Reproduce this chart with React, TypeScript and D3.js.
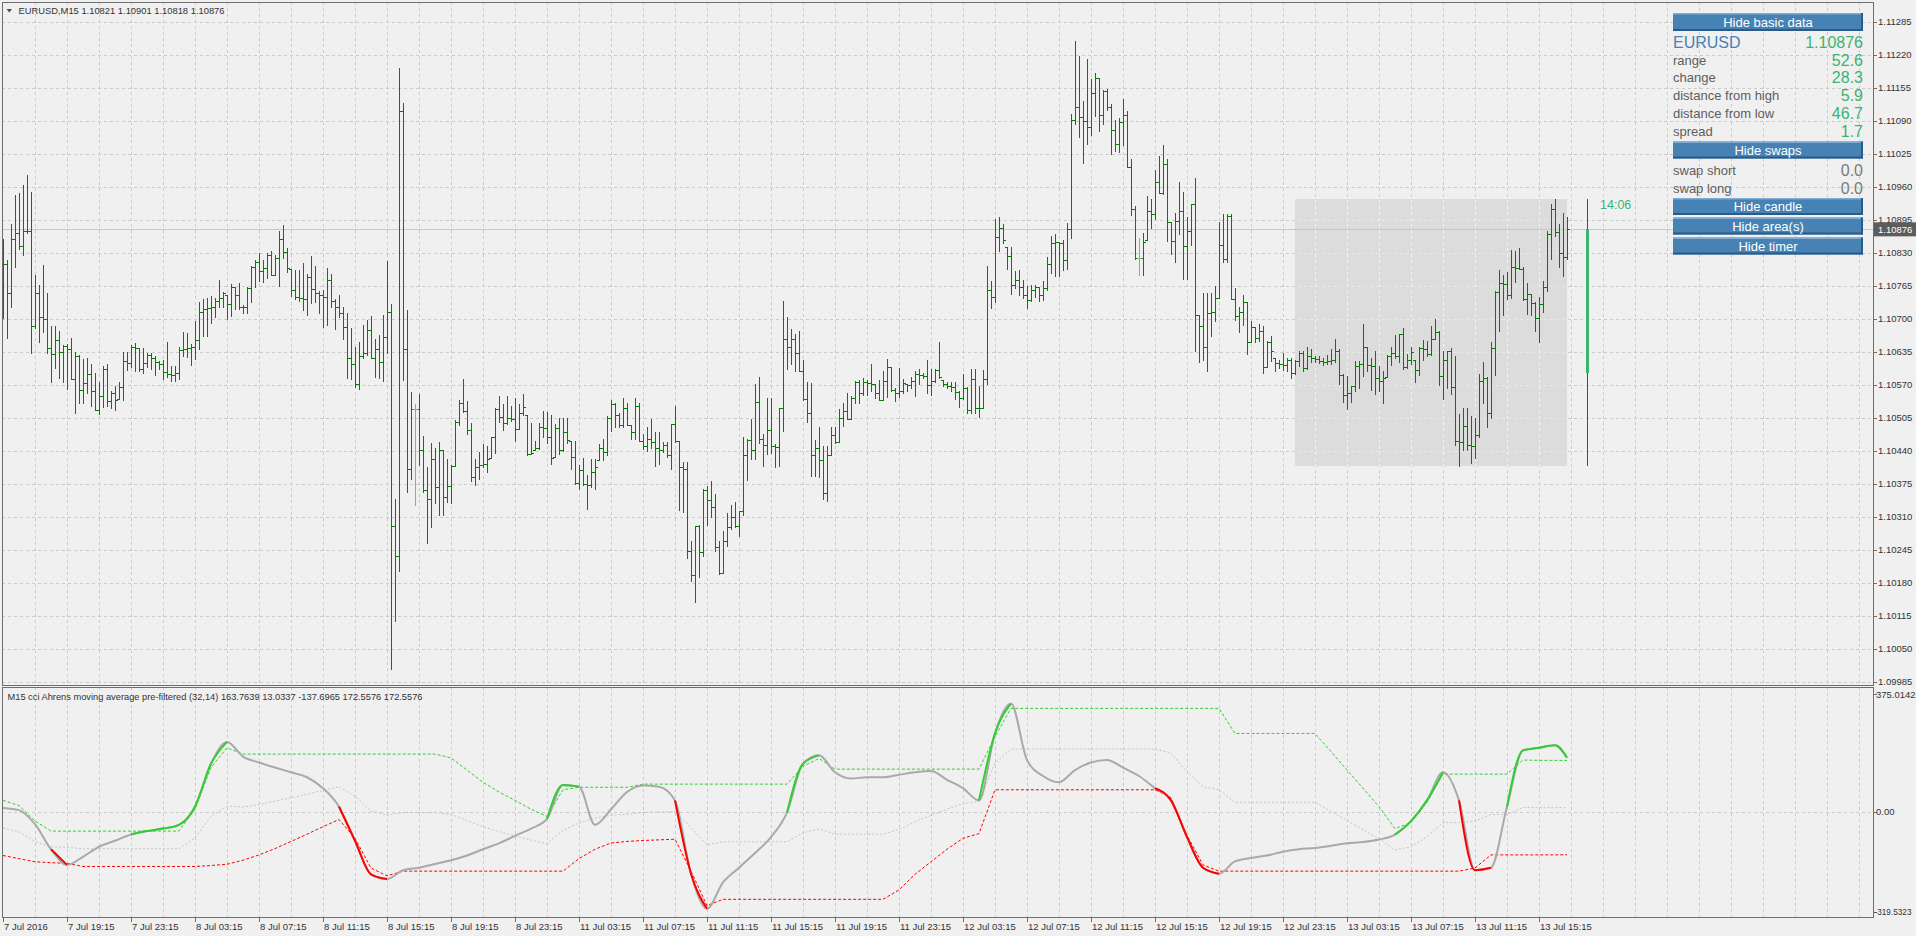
import React from "react";
import * as d3 from "d3";

// ---------- DATA (prices in points of 0.00001 above 1.10000) ----------
const PRICE_BASE = 1.1;
const POINT = 0.00001;

const barOpen: number[] = [
  830, 807, 750, 856, 868, 844, 872, 873, 686, 750, 704, 699, 643, 631, 659, 634, 647, 640, 582, 627,
  560, 573, 591, 558, 521, 548, 600, 538, 553, 540, 565, 616, 613, 644, 642, 600, 612, 628, 622, 615,
  610, 595, 592, 589, 594, 638, 640, 642, 645, 658, 714, 720, 721, 723, 735, 741, 751, 728, 762, 747,
  724, 723, 760, 801, 811, 793, 799, 825, 787, 820, 857, 832, 799, 756, 743, 741, 739, 783, 758, 751,
  747, 742, 776, 735, 724, 712, 684, 623, 611, 571, 627, 633, 678, 623, 641, 615, 663, 714, 291, 233,
  1110, 640, 403, 522, 522, 441, 362, 345, 424, 368, 441, 348, 371, 410, 497, 534, 519, 481, 389, 408,
  412, 414, 424, 466, 522, 507, 495, 505, 503, 482, 514, 527, 434, 436, 446, 486, 484, 466, 426, 484,
  441, 476, 461, 428, 376, 401, 374, 372, 399, 408, 446, 437, 505, 532, 511, 490, 525, 490, 476, 529,
  459, 449, 463, 457, 446, 441, 451, 431, 492, 459, 408, 403, 242, 196, 292, 240, 362, 343, 330, 250,
  199, 262, 289, 310, 291, 322, 432, 461, 442, 536, 463, 451, 480, 449, 447, 524, 660, 644, 660, 633,
  596, 542, 514, 432, 445, 422, 356, 431, 471, 457, 505, 519, 503, 544, 575, 553, 575, 573, 571, 554,
  540, 578, 604, 559, 553, 557, 573, 569, 577, 592, 590, 587, 569, 578, 598, 586, 571, 568, 566, 555,
  544, 563, 521, 582, 525, 524, 582, 757, 742, 861, 878, 855, 824, 767, 776, 762, 746, 736, 756, 762,
  746, 760, 808, 849, 851, 849, 815, 876, 1091, 1116, 1097, 1089, 1077, 1145, 1174, 1102, 1148, 1116, 1071, 1044,
  1087, 1102, 999, 916, 820, 820, 851, 913, 907, 969, 948, 1004, 890, 853, 892, 913, 843, 873, 926, 708,
  685, 644, 712, 714, 741, 845, 817, 903, 739, 706, 714, 733, 655, 684, 662, 675, 605, 654, 636, 612,
  611, 608, 619, 594, 617, 633, 602, 626, 623, 621, 617, 615, 617, 619, 637, 590, 549, 554, 567, 607,
  611, 644, 608, 606, 584, 578, 584, 627, 633, 627, 669, 605, 619, 634, 598, 642, 641, 631, 660, 674,
  588, 619, 636, 565, 459, 457, 489, 451, 449, 470, 578, 583, 514, 642, 752, 770, 768, 747, 801, 800,
  798, 739, 749, 731, 702, 729, 762, 866, 916, 870, 830, 821,
];
const barHigh: number[] = [
  856, 815, 886, 944, 948, 963, 983, 949, 786, 766, 806, 750, 686, 686, 676, 649, 651, 661, 634, 628,
  621, 622, 610, 594, 575, 606, 610, 558, 567, 575, 635, 635, 648, 653, 642, 643, 632, 633, 627, 617,
  619, 654, 607, 607, 645, 674, 672, 650, 696, 733, 738, 741, 745, 741, 776, 753, 747, 768, 762, 770,
  726, 762, 803, 816, 829, 816, 829, 833, 825, 872, 884, 839, 797, 795, 795, 809, 789, 824, 803, 754,
  757, 800, 789, 739, 747, 724, 712, 681, 644, 655, 687, 698, 706, 660, 668, 708, 814, 728, 345, 1193,
  1125, 718, 555, 532, 551, 469, 408, 455, 446, 457, 441, 424, 412, 501, 540, 582, 538, 494, 423, 438,
  453, 449, 467, 524, 547, 532, 547, 529, 543, 531, 551, 511, 494, 459, 494, 519, 517, 511, 492, 505,
  505, 505, 459, 459, 412, 425, 393, 424, 424, 453, 463, 509, 539, 534, 515, 544, 534, 490, 543, 534,
  472, 486, 503, 476, 476, 457, 457, 492, 529, 460, 418, 418, 263, 292, 293, 364, 370, 381, 354, 262,
  281, 318, 333, 339, 322, 466, 463, 503, 571, 586, 472, 544, 544, 453, 525, 734, 703, 680, 670, 676,
  619, 576, 573, 461, 486, 449, 449, 486, 486, 522, 534, 554, 548, 578, 580, 584, 579, 611, 571, 579,
  597, 621, 604, 563, 602, 582, 571, 586, 596, 600, 594, 619, 600, 601, 655, 579, 575, 575, 575, 558,
  592, 565, 601, 601, 567, 598, 803, 774, 897, 900, 886, 841, 841, 793, 795, 776, 764, 766, 766, 762,
  774, 822, 862, 866, 851, 855, 888, 1104, 1247, 1217, 1128, 1212, 1172, 1184, 1175, 1151, 1152, 1122, 1091, 1096,
  1132, 1110, 1014, 922, 859, 869, 941, 936, 992, 1021, 1043, 1014, 890, 909, 970, 950, 901, 926, 977, 708,
  750, 750, 750, 764, 890, 906, 906, 907, 760, 724, 747, 733, 695, 684, 689, 685, 656, 665, 623, 619,
  633, 623, 623, 619, 636, 636, 644, 640, 626, 627, 623, 629, 641, 660, 640, 592, 587, 567, 617, 617,
  689, 644, 623, 636, 607, 596, 629, 644, 667, 670, 681, 631, 644, 619, 644, 659, 656, 685, 699, 675,
  636, 637, 642, 627, 513, 524, 525, 509, 505, 592, 615, 585, 654, 754, 796, 786, 791, 836, 834, 840,
  801, 770, 749, 733, 742, 774, 872, 926, 936, 886, 909, 901,
];
const barLow: number[] = [
  702, 661, 724, 802, 837, 826, 868, 632, 682, 655, 674, 632, 575, 602, 584, 575, 561, 582, 515, 533,
  533, 554, 529, 520, 513, 527, 528, 525, 520, 541, 540, 599, 605, 596, 596, 594, 604, 600, 590, 600,
  582, 586, 578, 578, 582, 627, 624, 609, 621, 640, 665, 666, 691, 703, 723, 724, 699, 706, 720, 720,
  712, 712, 733, 763, 774, 773, 780, 786, 786, 764, 820, 791, 745, 738, 734, 718, 708, 731, 733, 712,
  684, 687, 724, 679, 703, 660, 583, 582, 565, 561, 623, 629, 622, 585, 583, 578, 633, 10, 105, 204,
  580, 358, 384, 333, 412, 358, 258, 289, 337, 314, 314, 338, 337, 410, 490, 517, 473, 380, 373, 384,
  408, 399, 426, 435, 496, 481, 492, 499, 459, 482, 511, 432, 434, 441, 444, 467, 455, 413, 427, 433,
  439, 455, 403, 374, 365, 372, 325, 368, 364, 422, 422, 432, 478, 486, 486, 486, 490, 463, 463, 459,
  444, 439, 445, 410, 413, 438, 427, 403, 457, 323, 319, 229, 184, 141, 192, 233, 293, 310, 242, 198,
  199, 253, 286, 289, 271, 314, 383, 424, 424, 455, 410, 434, 435, 408, 410, 478, 601, 610, 596, 596,
  540, 497, 391, 391, 389, 344, 341, 431, 455, 457, 488, 503, 503, 534, 534, 549, 550, 558, 544, 539,
  540, 546, 558, 538, 546, 554, 557, 563, 548, 571, 583, 554, 550, 576, 583, 568, 563, 558, 542, 526,
  542, 515, 515, 515, 507, 524, 571, 721, 733, 834, 850, 797, 749, 760, 747, 741, 721, 735, 743, 735,
  737, 756, 790, 785, 785, 796, 797, 859, 1083, 1058, 1007, 1044, 1062, 1100, 1070, 1083, 1112, 1025, 1031, 1028,
  1042, 999, 904, 818, 787, 786, 855, 879, 896, 948, 946, 853, 828, 811, 866, 778, 779, 845, 637, 615,
  619, 596, 665, 695, 741, 811, 811, 739, 698, 674, 687, 631, 655, 655, 656, 594, 605, 617, 597, 602,
  598, 596, 584, 592, 607, 596, 600, 615, 615, 612, 608, 611, 610, 615, 572, 536, 523, 536, 557, 563,
  587, 597, 560, 552, 557, 534, 586, 608, 623, 615, 600, 602, 611, 576, 590, 619, 627, 629, 660, 569,
  542, 563, 552, 451, 410, 441, 441, 416, 426, 467, 534, 486, 505, 590, 675, 708, 739, 741, 772, 797,
  737, 710, 708, 675, 655, 713, 754, 818, 863, 801, 785, 818,
];
const barClose: number[] = [
  807, 750, 856, 868, 844, 872, 873, 686, 750, 704, 699, 643, 631, 659, 634, 647, 640, 582, 627, 560,
  573, 591, 558, 521, 548, 600, 538, 553, 540, 565, 616, 613, 644, 642, 600, 612, 628, 622, 615, 610,
  595, 592, 589, 594, 638, 640, 642, 645, 658, 714, 720, 721, 723, 735, 741, 751, 728, 762, 747, 724,
  723, 760, 801, 811, 793, 799, 825, 787, 820, 857, 832, 799, 756, 743, 741, 739, 783, 758, 751, 747,
  742, 776, 735, 724, 712, 684, 623, 611, 571, 627, 633, 678, 623, 641, 615, 663, 714, 291, 233, 1110,
  640, 403, 522, 522, 441, 362, 345, 424, 368, 441, 348, 371, 410, 497, 534, 519, 481, 389, 408, 412,
  414, 424, 466, 522, 507, 495, 505, 503, 482, 514, 527, 434, 436, 446, 486, 484, 466, 426, 484, 441,
  476, 461, 428, 376, 401, 374, 372, 399, 408, 446, 437, 505, 532, 511, 490, 525, 490, 476, 529, 459,
  449, 463, 457, 446, 441, 451, 431, 492, 459, 408, 403, 242, 196, 292, 240, 362, 343, 330, 250, 199,
  262, 289, 310, 291, 322, 432, 461, 442, 536, 463, 451, 480, 449, 447, 524, 660, 644, 660, 633, 596,
  542, 514, 432, 445, 422, 356, 431, 471, 457, 505, 519, 503, 544, 575, 553, 575, 573, 571, 554, 540,
  578, 604, 559, 553, 557, 573, 569, 577, 592, 590, 587, 569, 578, 598, 586, 571, 568, 566, 555, 544,
  563, 521, 582, 525, 524, 582, 757, 742, 861, 878, 855, 824, 767, 776, 762, 746, 736, 756, 762, 746,
  760, 808, 849, 851, 849, 815, 876, 1091, 1116, 1097, 1089, 1077, 1145, 1174, 1102, 1148, 1116, 1071, 1044, 1087,
  1102, 999, 916, 820, 820, 851, 913, 907, 969, 948, 1004, 890, 853, 892, 913, 843, 873, 926, 708, 685,
  644, 712, 714, 741, 845, 817, 903, 739, 706, 714, 733, 655, 684, 662, 675, 605, 654, 636, 612, 611,
  608, 619, 594, 617, 633, 602, 626, 623, 621, 617, 615, 617, 619, 637, 590, 549, 554, 567, 607, 611,
  644, 608, 606, 584, 578, 584, 627, 633, 627, 669, 605, 619, 634, 598, 642, 641, 631, 660, 674, 588,
  619, 636, 565, 459, 457, 489, 451, 449, 470, 578, 583, 514, 642, 752, 770, 768, 747, 801, 800, 798,
  739, 749, 731, 702, 729, 762, 866, 916, 870, 830, 822, 876,
];

const areaStartBar = 323;
const candleOpen = 593;
const candleShiftBars = 5;
const bidPrice = 1.10876;
const bidLabel = "1.10876";
const timerText = "14:06";

const timeLabels = [
  "7 Jul 2016", "7 Jul 19:15", "7 Jul 23:15", "8 Jul 03:15", "8 Jul 07:15", "8 Jul 11:15", "8 Jul 15:15",
  "8 Jul 19:15", "8 Jul 23:15", "11 Jul 03:15", "11 Jul 07:15", "11 Jul 11:15", "11 Jul 15:15",
  "11 Jul 19:15", "11 Jul 23:15", "12 Jul 03:15", "12 Jul 07:15", "12 Jul 11:15", "12 Jul 15:15",
  "12 Jul 19:15", "12 Jul 23:15", "13 Jul 03:15", "13 Jul 07:15", "13 Jul 11:15", "13 Jul 15:15",
];
const priceLabels = [
  "1.11285", "1.11220", "1.11155", "1.11090", "1.11025", "1.10960", "1.10895", "1.10830", "1.10765",
  "1.10700", "1.10635", "1.10570", "1.10505", "1.10440", "1.10375", "1.10310", "1.10245", "1.10180",
  "1.10115", "1.10050", "1.09985",
];
const indicatorLabels = ["375.0142", "0.00", "-319.5323"];
const indicatorMax = 375.0142;
const indicatorMin = -319.5323;

// indicator sampled every 4 bars, last value at the final bar
const cciStep = 4;
const cciLine = [
  12, 5, -40, -120, -170, -144, -112, -93, -73, -62,
  -54, -42, 16, 153, 223, 176, 157, 141, 126, 110,
  75, 16, -93, -200, -215, -187, -179, -167, -155, -140,
  -120, -101, -77, -54, -23, 85, 80, -42, 8, 63,
  84, 80, 36, -198, -310, -226, -179, -132, -81, -3,
  153, 180, 126, 106, 110, 110, 118, 126, 130, 102,
  75, 36, 250, 345, 165, 114, 94, 133, 157, 165,
  141, 114, 75, 36, -81, -179, -198, -159, -148, -140,
  -128, -120, -116, -109, -101, -97, -89, -73, -30, 36,
  126, 36, -187, -179, 16, 196, 204, 212, 172.5576,
];
const cciUpper = [
  36, 20, -30, -62, -62, -62, -62, -62, -62, -62,
  -62, -62, 8, 141, 204, 184, 184, 184, 184, 184,
  184, 184, 184, 184, 184, 184, 184, 184, 172, 133,
  94, 63, 36, 8, -15, 70, 78, 78, 78, 78,
  88, 88, 88, 88, 88, 88, 88, 88, 88, 88,
  145, 170, 136, 136, 136, 136, 136, 136, 136, 136,
  136, 136, 240, 330, 330, 330, 330, 330, 330, 330,
  330, 330, 330, 330, 330, 330, 330, 250, 250, 250,
  250, 250, 250, 192, 133, 75, 16, -54, -35, 30,
  120, 120, 120, 120, 120, 165, 164, 164, 163.7639,
];
const cciLower = [
  -140, -150, -160, -163, -165, -175, -175, -175, -175, -175,
  -175, -175, -175, -172, -168, -155, -138, -118, -95, -72,
  -48, -25, -85, -180, -205, -190, -190, -190, -190, -190,
  -190, -190, -190, -190, -190, -190, -150, -120, -100, -95,
  -92, -90, -88, -190, -300, -280, -280, -280, -280, -280,
  -280, -280, -280, -280, -280, -280, -250, -200, -160, -120,
  -85, -70, 70, 70, 70, 70, 70, 70, 70, 70,
  70, 70, 70, 45, -75, -170, -190, -190, -190, -190,
  -190, -190, -190, -190, -190, -190, -190, -190, -190, -190,
  -190, -190, -180, -138, -138, -138, -138, -138, -137.6965,
];

const chartTitle = "EURUSD,M15  1.10821 1.10901 1.10818 1.10876";
const indicatorTitle =
  "M15 cci Ahrens moving average pre-filtered (32,14) 163.7639 13.0337 -137.6965 172.5576 172.5576";
const symbolName = "EURUSD";
const symbolPrice = "1.10876";
const infoLabels = ["range", "change", "distance from high", "distance from low", "spread"];
const infoValues = ["52.6", "28.3", "5.9", "46.7", "1.7"];
const swapLabels = ["swap short", "swap long"];
const swapValues = ["0.0", "0.0"];
const buttonLabels = ["Hide basic data", "Hide swaps", "Hide candle", "Hide area(s)", "Hide timer"];

// ---------- COMPONENT ----------
const FONT = "'Liberation Sans', Arial, sans-serif";
const BG = "#f0f0f0";
const GRID = "#cbcbcb";
const FRAME = "#6e6e6e";
const BAR_GREEN = "#008000";
const VALUE_GREEN = "#3cb371";

export default function App() {
  const W = 1916;
  const H = 936;
  const n = barClose.length;
  const main = { x0: 2, x1: 1873, y0: 2, y1: 685 };
  const ind = { y0: 687, y1: 917 };

  const x = d3.scaleLinear().domain([0, 1]).range([3, 7]);
  const y = d3.scaleLinear().domain([1.09985, 1.11285]).range([681.7, 21.7]);
  const yi = d3.scaleLinear().domain([indicatorMin, indicatorMax]).range([911.7, 694.3]);
  const price = (v: number) => PRICE_BASE + v * POINT;

  const gridBars = d3.range(8, 468, 8);
  const priceTicks = priceLabels.map(Number);

  // bars
  let greenPath = "";
  let greyPath = "";
  for (let i = 0; i < n; i++) {
    const xi = Math.round(x(i));
    const hi = Math.round(y(price(barHigh[i])));
    const lo = Math.round(y(price(barLow[i])));
    const o = Math.max(barLow[i], Math.min(barHigh[i], barOpen[i]));
    const c = Math.max(barLow[i], Math.min(barHigh[i], barClose[i]));
    const yo = Math.round(y(price(o))) + 0.5;
    const yc = Math.round(y(price(c))) + 0.5;
    const seg = `M${xi + 0.5},${hi}V${lo + 1}M${xi - 2},${yo}H${xi}M${xi + 1},${yc}H${xi + 3}`;
    if (barOpen[i] === barClose[i]) greyPath += seg;
    else greenPath += seg;
  }

  // area of the last session
  const areaHigh = d3.max(barHigh.slice(areaStartBar)) as number;
  const areaLow = d3.min(barLow.slice(areaStartBar)) as number;
  const areaX0 = x(areaStartBar);
  const areaX1 = x(n - 1);
  const areaY0 = y(price(areaHigh));
  const areaY1 = y(price(areaLow));

  // candle
  const cx = Math.round(x(n - 1 + candleShiftBars));
  const cTop = y(price(barClose[n - 1]));
  const cBot = y(price(candleOpen));

  // indicator
  const indBars = cciLine.map((_, j) => (j < cciLine.length - 1 ? j * cciStep : n - 1));
  const cciMid = cciUpper.map((u, j) => (u + cciLower[j]) / 2);
  const state = cciLine.map((v, j) => (v >= cciUpper[j] ? 1 : v <= cciLower[j] ? -1 : 0));
  const lineGen = d3
    .line<number>()
    .x((_, j) => x(indBars[j]))
    .y((d) => yi(d))
    .curve(d3.curveMonotoneX);
  const bandGen = d3
    .line<number>()
    .x((_, j) => x(indBars[j]))
    .y((d) => yi(d));
  const cciPath = lineGen(cciLine) || "";
  const upPath =
    lineGen.defined((_, j) => state[j] === 1 || state[j + 1] === 1)(cciLine) || "";
  const dnPath =
    lineGen.defined((_, j) => state[j] === -1 || state[j + 1] === -1)(cciLine) || "";
  lineGen.defined(() => true);

  const btnX = 1673;
  const btnW = 190;
  const buttons = [
    { y: 13, h: 18 },
    { y: 141.5, h: 17 },
    { y: 198, h: 17 },
    { y: 217.5, h: 17 },
    { y: 237.5, h: 17 },
  ];
  const infoY = [60, 77.7, 95.7, 113.3, 131];
  const swapY = [170, 188.3];

  return (
    <div style={{ position: "absolute", left: 0, top: 0 }}>
      <svg width={W} height={H} style={{ display: "block", background: BG }} fontFamily={FONT}>
        <defs>
          <clipPath id="mainClip">
            <rect x={main.x0} y={main.y0} width={main.x1 - main.x0} height={main.y1 - main.y0} />
          </clipPath>
          <clipPath id="indClip">
            <rect x={main.x0} y={ind.y0} width={main.x1 - main.x0} height={ind.y1 - ind.y0} />
          </clipPath>
          <clipPath id="areaClip">
            <rect x={areaX0} y={areaY0} width={areaX1 - areaX0} height={areaY1 - areaY0} />
          </clipPath>
        </defs>
        <rect x={0} y={0} width={W} height={H} fill={BG} />

        {/* main pane grid */}
        <g clipPath="url(#mainClip)" shapeRendering="crispEdges">
          {gridBars.map((b) => (
            <line key={"vg" + b} x1={x(b) + 0.5} x2={x(b) + 0.5} y1={main.y0} y2={main.y1}
              stroke={GRID} strokeDasharray="3,3" />
          ))}
          {priceTicks.map((p, k) => (
            <line key={"hg" + k} x1={main.x0} x2={main.x1} y1={Math.round(y(p)) + 0.5}
              y2={Math.round(y(p)) + 0.5} stroke={GRID} strokeDasharray="3,3" />
          ))}
          <rect x={areaX0} y={areaY0} width={areaX1 - areaX0} height={areaY1 - areaY0} fill="#dcdcdc" />
          <g clipPath="url(#areaClip)">
            {gridBars.map((b) => (
              <line key={"avg" + b} x1={x(b) + 0.5} x2={x(b) + 0.5} y1={main.y0} y2={main.y1}
                stroke="#f4f4f4" strokeDasharray="3,3" />
            ))}
            {priceTicks.map((p, k) => (
              <line key={"ahg" + k} x1={main.x0} x2={main.x1} y1={Math.round(y(p)) + 0.5}
                y2={Math.round(y(p)) + 0.5} stroke="#e8e8e8" strokeDasharray="3,3" />
            ))}
          </g>
          <line x1={main.x0} x2={main.x1} y1={Math.round(y(bidPrice)) + 0.5} y2={Math.round(y(bidPrice)) + 0.5}
            stroke="#c8c8c8" />
          <path d={greenPath} stroke={BAR_GREEN} strokeWidth={1} fill="none" />
          <path d={greyPath} stroke="#a0a0a0" strokeWidth={1} fill="none" />
          {/* current candle */}
          <line x1={cx + 0.5} x2={cx + 0.5} y1={areaY0} y2={areaY1} stroke={BAR_GREEN} />
          <rect x={cx - 1} y={cTop} width={3} height={cBot - cTop} fill={VALUE_GREEN} />
        </g>
        <text x={1600} y={205} dy="0.35em" fontSize={12.5} fill={VALUE_GREEN}>{timerText}</text>

        {/* title */}
        <path d="M6.5,9 L12,9 L9.25,12.5 Z" fill="#4d4d4d" />
        <text x={18.5} y={10.7} dy="0.35em" fontSize={9.5} fill="#333" textLength={206}
          lengthAdjust="spacingAndGlyphs">{chartTitle}</text>

        {/* indicator pane */}
        <g clipPath="url(#indClip)">
          <g shapeRendering="crispEdges">
            {gridBars.map((b) => (
              <line key={"ivg" + b} x1={x(b) + 0.5} x2={x(b) + 0.5} y1={ind.y0} y2={ind.y1}
                stroke={GRID} strokeDasharray="3,3" />
            ))}
            <line x1={main.x0} x2={main.x1} y1={Math.round(yi(0)) + 0.5} y2={Math.round(yi(0)) + 0.5}
              stroke={GRID} strokeDasharray="3,3" />
          </g>
          <path d={bandGen(cciMid) || ""} fill="none" stroke="#c4c4c4" strokeWidth={1} strokeDasharray="2,2" />
          <path d={bandGen(cciUpper) || ""} fill="none" stroke="#32cd32" strokeWidth={1} strokeDasharray="3,2" />
          <path d={bandGen(cciLower) || ""} fill="none" stroke="#ff0000" strokeWidth={1} strokeDasharray="3,2" />
          <path d={cciPath} fill="none" stroke="#a9a9a9" strokeWidth={2} />
          <path d={upPath} fill="none" stroke="#32cd32" strokeWidth={2} />
          <path d={dnPath} fill="none" stroke="#ff0000" strokeWidth={2} />
        </g>
        <text x={7.5} y={696.7} dy="0.35em" fontSize={9.5} fill="#333" textLength={415}
          lengthAdjust="spacingAndGlyphs">{indicatorTitle}</text>

        {/* frames */}
        <g shapeRendering="crispEdges" fill="none" stroke={FRAME}>
          <rect x={main.x0 + 0.5} y={main.y0 + 0.5} width={main.x1 - main.x0} height={main.y1 - main.y0} />
          <rect x={main.x0 + 0.5} y={ind.y0 + 0.5} width={main.x1 - main.x0} height={ind.y1 - ind.y0} />
        </g>

        {/* price axis */}
        <g fontSize={9.5} fill="#333">
          {priceTicks.map((p, k) => (
            <g key={"pl" + k}>
              <line x1={main.x1} x2={main.x1 + 4} y1={Math.round(y(p)) + 0.5} y2={Math.round(y(p)) + 0.5}
                stroke={FRAME} shapeRendering="crispEdges" />
              <text x={main.x1 + 5} y={y(p)} dy="0.35em">{priceLabels[k]}</text>
            </g>
          ))}
          <rect x={main.x1 + 1} y={y(bidPrice) - 7} width={W - main.x1 - 1} height={14} fill="#5c5c5c" />
          <text x={main.x1 + 5} y={y(bidPrice)} dy="0.35em" fill="#fff">{bidLabel}</text>
        </g>

        {/* indicator axis */}
        <g fontSize={9.5} fill="#333">
          {[indicatorMax, 0, indicatorMin].map((v, k) => (
            <g key={"il" + k}>
              <line x1={main.x1} x2={main.x1 + 4} y1={Math.round(yi(v)) + 0.5} y2={Math.round(yi(v)) + 0.5}
                stroke={FRAME} shapeRendering="crispEdges" />
              {k === 2 ? (
                <text x={main.x1 + 1.5} y={yi(v)} dy="0.35em" fontSize={9} textLength={37}
                  lengthAdjust="spacingAndGlyphs">{indicatorLabels[k]}</text>
              ) : (
                <text x={main.x1 + 3} y={yi(v)} dy="0.35em">{indicatorLabels[k]}</text>
              )}
            </g>
          ))}
        </g>

        {/* time axis */}
        <g fontSize={9.5} fill="#333">
          {timeLabels.map((t, k) => (
            <g key={"tl" + k}>
              <line x1={x(16 * k) + 0.5} x2={x(16 * k) + 0.5} y1={ind.y1} y2={ind.y1 + 5} stroke={FRAME}
                shapeRendering="crispEdges" />
              <text x={x(16 * k) + 1} y={927} dy="0.35em">{t}</text>
            </g>
          ))}
        </g>

        {/* info panel */}
        {buttons.map((b, k) => (
          <g key={"btn" + k}>
            <rect x={btnX} y={b.y} width={btnW} height={b.h} fill="#4682b4" />
            <rect x={btnX} y={b.y} width={btnW} height={1.5} fill="#7fabd6" />
            <rect x={btnX} y={b.y + b.h - 2} width={btnW} height={2} fill="#2b5a86" />
            <rect x={btnX + btnW - 2} y={b.y} width={2} height={b.h} fill="#2b5a86" />
            <text x={btnX + btnW / 2} y={b.y + b.h / 2} dy="0.36em" textAnchor="middle" fontSize={13}
              fill="#fff">{buttonLabels[k]}</text>
          </g>
        ))}
        <text x={btnX} y={42} dy="0.36em" fontSize={16} fill="#4682b4">{symbolName}</text>
        <text x={btnX + btnW} y={42} dy="0.36em" fontSize={16} fill={VALUE_GREEN} textAnchor="end">{symbolPrice}</text>
        {infoLabels.map((l, k) => (
          <g key={"info" + k}>
            <text x={btnX} y={infoY[k]} dy="0.36em" fontSize={13} fill="#5e5e5e">{l}</text>
            <text x={btnX + btnW} y={infoY[k]} dy="0.36em" fontSize={16} fill={VALUE_GREEN}
              textAnchor="end">{infoValues[k]}</text>
          </g>
        ))}
        {swapLabels.map((l, k) => (
          <g key={"swap" + k}>
            <text x={btnX} y={swapY[k]} dy="0.36em" fontSize={13} fill="#5e5e5e">{l}</text>
            <text x={btnX + btnW} y={swapY[k]} dy="0.36em" fontSize={16} fill="#7a7a7a"
              textAnchor="end">{swapValues[k]}</text>
          </g>
        ))}
      </svg>
    </div>
  );
}
